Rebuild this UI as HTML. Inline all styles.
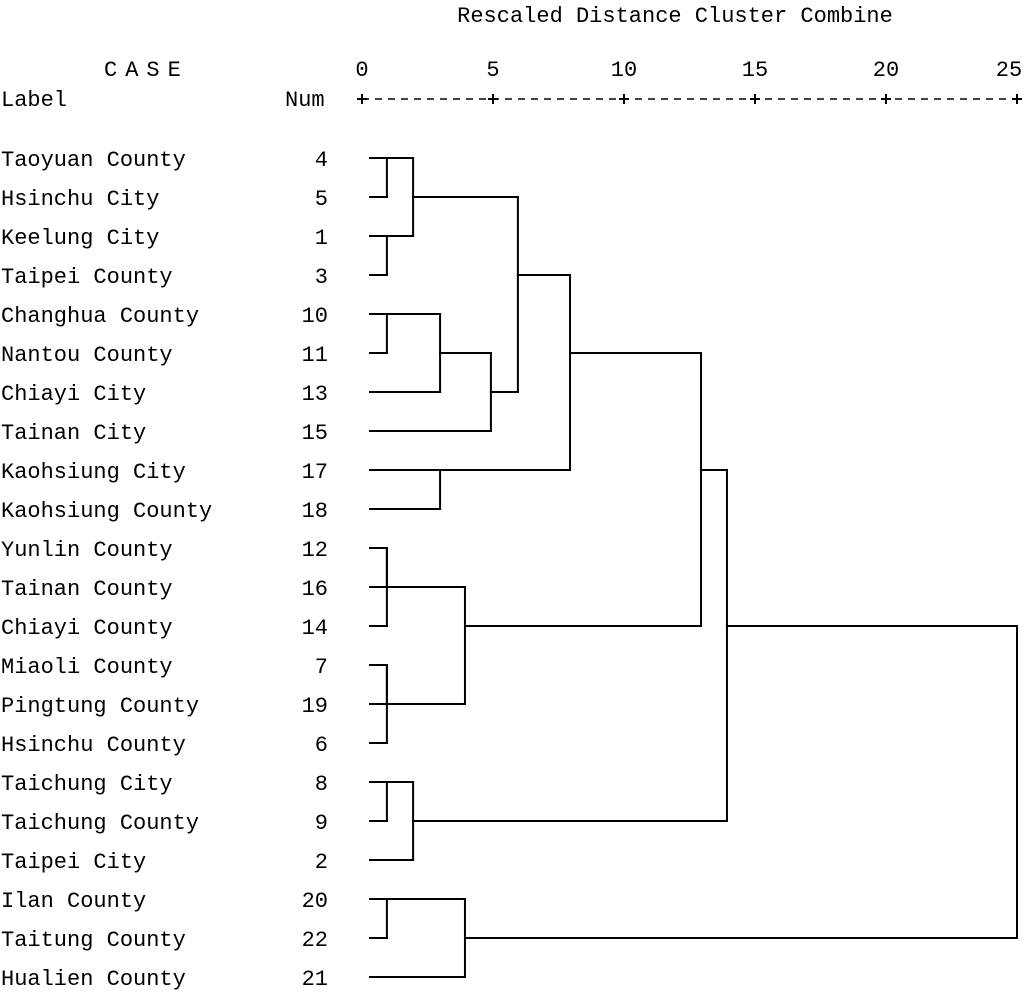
<!DOCTYPE html>
<html>
<head>
<meta charset="utf-8">
<style>
  html,body{margin:0;padding:0;background:#fff;}
  svg{display:block;}
  text{font-family:"Liberation Mono","Noto Sans CJK TC",monospace;font-size:22px;fill:#000;}
</style>
</head>
<body>
<svg id="chart" width="1024" height="992" viewBox="0 0 1024 992" xmlns="http://www.w3.org/2000/svg">
  <text x="675" y="22" text-anchor="middle">Rescaled Distance Cluster Combine</text>
  <text x="104" y="76" style="letter-spacing:8px">CASE</text>
  <text x="1" y="106">Label</text>
  <text x="285" y="106">Num</text>
  <g id="axis"></g>
  <g id="labels"></g>
  <g id="links"></g>
</svg>
<script>
const caseLabels = ["Taoyuan County","Hsinchu City","Keelung City","Taipei County","Changhua County","Nantou County","Chiayi City","Tainan City","Kaohsiung City","Kaohsiung County","Yunlin County","Tainan County","Chiayi County","Miaoli County","Pingtung County","Hsinchu County","Taichung City","Taichung County","Taipei City","Ilan County","Taitung County","Hualien County"];
const caseNums = [4,5,1,3,10,11,13,15,17,18,12,16,14,7,19,6,8,9,2,20,22,21];
const tickValues = [0,5,10,15,20,25];
// merges: child indices (leaf = row index, node = "n"+k), rescaled distance
const mergeLeft  = [0, 2, "n0", 4, "n3", "n4", "n2", 8, "n7", 10, "n9", 13, "n11", "n10", "n8", 16, "n15", "n14", 19, "n18", "n17"];
const mergeRight = [1, 3, "n1", 5, 6, 7, "n5", 9, "n6", 11, 12, 14, 15, "n12", "n13", 17, 18, "n16", 20, 21, "n19"];
const mergeDist  = [0.95,0.95,1.95,0.95,2.98,4.92,5.95,2.98,7.94,0.95,0.95,0.95,0.95,3.93,12.94,0.95,1.95,13.93,0.95,3.93,25];

const NS="http://www.w3.org/2000/svg";
const xScale = d => 362 + d*26.2;
const rowY = r => 158 + r*39;
const leafX = 370;

const axis=document.getElementById('axis');
const labels=document.getElementById('labels');
const links=document.getElementById('links');

function mk(tag, attrs, parent){const e=document.createElementNS(NS,tag);for(const k in attrs)e.setAttribute(k,attrs[k]);parent.appendChild(e);return e;}

// axis
const axLine=mk('line',{x1:xScale(0),x2:xScale(25),y1:99,y2:99,stroke:'#000','stroke-width':1.5,'stroke-dasharray':'7,6'},axis);


tickValues.forEach(v=>{
  const x=xScale(v);
  const t=mk('text',{x:(v===25?x-8:x),y:76,'text-anchor':'middle'},axis);
  t.textContent=v;
  
  
  const p=mk('g',{},axis);
  
  
  mk('line',{x1:x-5,x2:x+5,y1:99,y2:99,stroke:'#000','stroke-width':2},p);
  mk('line',{x1:x,x2:x,y1:94,y2:104,stroke:'#000','stroke-width':2},p);
});

// labels
caseLabels.forEach((l,i)=>{
  const y=rowY(i)+8;
  const t=mk('text',{x:1,y:y},labels);
  t.textContent=l;
  
  
  const n=mk('text',{x:328,y:y,'text-anchor':'end'},labels);
  n.textContent=caseNums[i];
  
  
});

// links
const nodeRow=[], nodeX=[];
function info(c){
  if(typeof c==='number') return {row:c,x:leafX};
  const k=+c.slice(1); return {row:nodeRow[k],x:nodeX[k]};
}
function ln(x1,y1,x2,y2){
  const e=mk('line',{x1,y1,x2,y2,stroke:'#000','stroke-width':2,'stroke-linecap':'square'},links);
  
  
}
mergeDist.forEach((d,k)=>{
  const a=info(mergeLeft[k]), b=info(mergeRight[k]);
  const x=xScale(d);
  ln(a.x,rowY(a.row),x,rowY(a.row));
  ln(b.x,rowY(b.row),x,rowY(b.row));
  ln(x,rowY(a.row),x,rowY(b.row));
  nodeRow[k]=Math.floor((a.row+b.row)/2);
  nodeX[k]=x;
});
</script>
</body>
</html>
